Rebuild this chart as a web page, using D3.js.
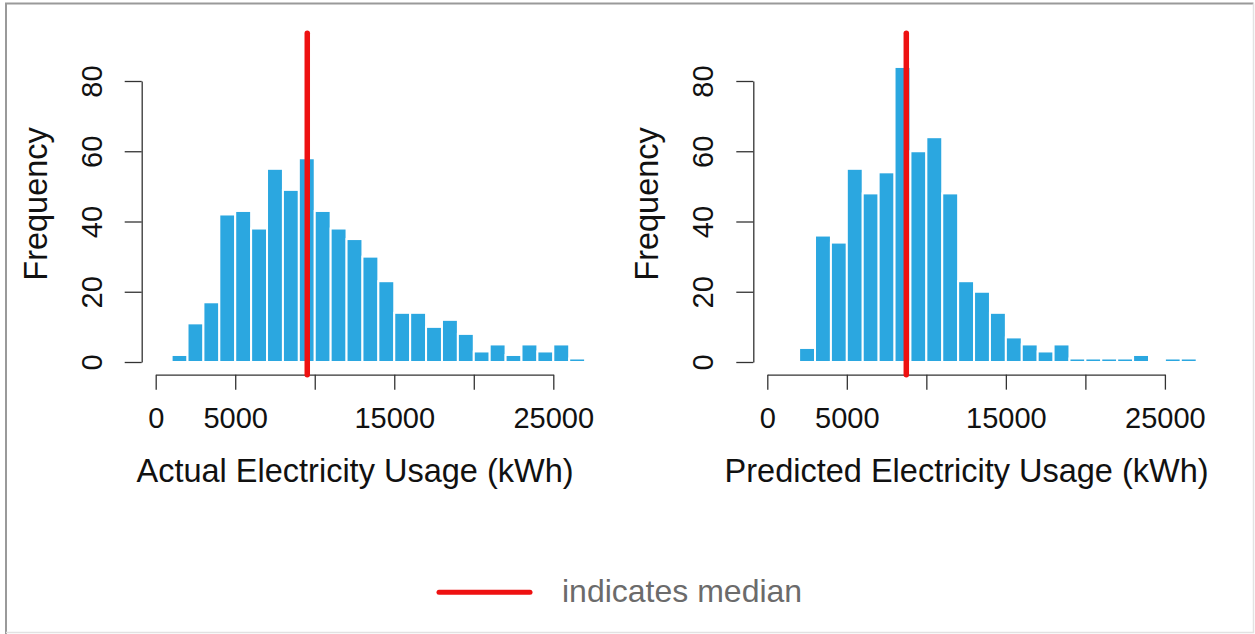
<!DOCTYPE html>
<html>
<head>
<meta charset="utf-8">
<script src="https://cdn.jsdelivr.net/npm/d3@7"></script>
<style>
  body { margin: 0; background: #fff; }
  svg { display: block; font-family: "Liberation Sans", Arial, Helvetica, sans-serif; }
</style>
</head>
<body>
<div id="chart"></div>
<script>
// histogram counts, 1000 kWh bins
var binWidth = 1000;
var actualStart = 1000;
var actualCounts = [2, 11, 17, 42, 43, 38, 55, 49, 58, 43, 38, 35, 30, 23, 14, 14, 10, 12, 8, 3, 5, 2, 5, 3, 5, 1];
var predictedStart = 2000;
var predictedCounts = [4, 36, 34, 55, 48, 54, 84, 60, 64, 48, 23, 20, 14, 7, 5, 3, 5, 1, 1, 1, 1, 2, 0, 1, 1];

var actualMedian = 9530;
var predictedMedian = 8740;

var xTicks = [0, 5000, 10000, 15000, 20000, 25000];
var xTickLabels = [0, 5000, 15000, 25000];   // R drops the ones that would overlap
var yTicks = [0, 20, 40, 60, 80];
var yLimit = [0, 90];

var panels = [
  {title: "Actual Electricity Usage (kWh)", start: actualStart, counts: actualCounts, median: actualMedian, left: 155.7},
  {title: "Predicted Electricity Usage (kWh)", start: predictedStart, counts: predictedCounts, median: predictedMedian, left: 767.3}
];

var width = 1255, height = 634;
var barColor = "#2ba7e0";
var medianColor = "#ee1111";

var svg = d3.select("#chart").append("svg")
  .attr("width", width)
  .attr("height", height);

// frame around the figure
svg.append("rect").attr("x", 0).attr("y", 0).attr("width", width).attr("height", height).attr("fill", "#fff");
svg.append("path").attr("d", "M6,634V3.5H1253.5").attr("fill", "none").attr("stroke", "#9a9a9a").attr("stroke-width", 2);
svg.append("path").attr("d", "M6,632.5H1253.5V3.5").attr("fill", "none").attr("stroke", "#e2e2e2").attr("stroke-width", 1.5);

var x = d3.scaleLinear().domain([0, 25000]).range([0, 397.6]);
var y = d3.scaleLinear().domain([0, 80]).range([362, 81]);

// 4% padding on the y range, like R's plot region
var ySpan = yLimit[1] - yLimit[0];
var regionTop = y(yLimit[1] + 0.04 * ySpan);
var regionBottom = y(yLimit[0] - 0.04 * ySpan);

panels.forEach(function(p) {
  var g = svg.append("g").attr("transform", `translate(${p.left},0)`);

  var bins = p.counts.map((c, i) => ({x0: p.start + i * binWidth, x1: p.start + (i + 1) * binWidth, n: c}));

  g.selectAll(".bar")
    .data(bins)
    .enter().append("rect")
    .attr("class", "bar")
    .attr("x", d => x(d.x0))
    .attr("y", d => y(d.n))
    .attr("width", d => x(d.x1) - x(d.x0))
    .attr("height", d => y(0) - y(d.n))
    .attr("fill", barColor)
    .attr("stroke", "#fff")
    .attr("stroke-width", 2);

  // x axis
  var xAxis = g.append("g")
    .attr("transform", `translate(0,${regionBottom})`)
    .call(d3.axisBottom(x).tickValues(xTicks).tickSize(15).tickSizeOuter(0)
      .tickFormat(d => xTickLabels.indexOf(d) >= 0 ? d : ""));
  xAxis.select(".domain").attr("stroke", "#333").attr("stroke-width", 1.3);
  xAxis.selectAll(".tick line").attr("stroke", "#333").attr("stroke-width", 1.3);
  xAxis.selectAll(".tick text")
    .attr("y", 53.5).attr("dy", 0)
    .attr("fill", "#111")
    .style("font-size", "29px")
    .style("font-family", "'Liberation Sans', Arial, sans-serif");

  // y axis, labels turned sideways
  var yAxis = g.append("g")
    .attr("transform", `translate(${-14},0)`)
    .call(d3.axisLeft(y).tickValues(yTicks).tickSize(17).tickSizeOuter(0));
  yAxis.select(".domain").attr("stroke", "#333").attr("stroke-width", 1.3);
  yAxis.selectAll(".tick line").attr("stroke", "#333").attr("stroke-width", 1.3);
  yAxis.selectAll(".tick text")
    .attr("transform", "rotate(-90)")
    .attr("x", 0).attr("y", -40).attr("dy", 0)
    .attr("text-anchor", "middle")
    .attr("fill", "#111")
    .style("font-size", "29px")
    .style("font-family", "'Liberation Sans', Arial, sans-serif");

  g.append("text")
    .attr("transform", `translate(-109,${(regionTop + regionBottom) / 2}) rotate(-90)`)
    .attr("text-anchor", "middle")
    .attr("fill", "#111")
    .style("font-size", "32.5px")
    .text("Frequency");

  g.append("text")
    .attr("x", 199.3)
    .attr("y", 481.5)
    .attr("text-anchor", "middle")
    .attr("fill", "#111")
    .style("font-size", "32.5px")
    .text(p.title);

  // median marker
  g.append("line")
    .attr("x1", x(p.median)).attr("x2", x(p.median))
    .attr("y1", regionTop).attr("y2", regionBottom)
    .attr("stroke", medianColor)
    .attr("stroke-width", 5.5)
    .attr("stroke-linecap", "round");
});

// legend
svg.append("line")
  .attr("x1", 439).attr("x2", 530)
  .attr("y1", 592.3).attr("y2", 592.3)
  .attr("stroke", medianColor)
  .attr("stroke-width", 5)
  .attr("stroke-linecap", "round");
svg.append("text")
  .attr("x", 562).attr("y", 602.3)
  .attr("fill", "#6b6b6b")
  .style("font-size", "32px")
  .text("indicates median");
</script>
</body>
</html>
